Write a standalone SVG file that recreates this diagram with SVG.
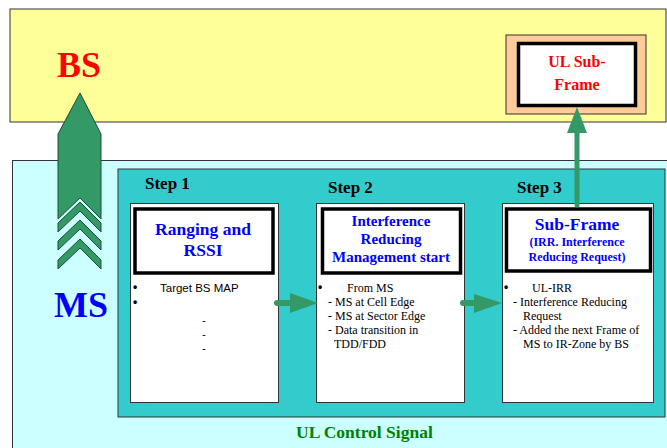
<svg xmlns="http://www.w3.org/2000/svg" width="667" height="448" viewBox="0 0 667 448">
<defs>
<style>
.bold{font-family:"Liberation Serif","Times New Roman",serif;font-weight:bold}
.ser{font-family:"Liberation Serif","Times New Roman",serif;font-size:12px;fill:#000}
.sans{font-family:"Liberation Sans",Arial,sans-serif;font-size:11.5px;fill:#000}
.bul{font-family:"Liberation Sans",Arial,sans-serif;font-size:12px;font-weight:bold;fill:#000}
.panel{fill:#fff;stroke:#333;stroke-width:1}
.title{fill:#fff;stroke:#000;stroke-width:3.5}
.blue{fill:#0000ff;text-anchor:middle}
.grn{fill:#339966;stroke:#1f4d33;stroke-width:1}
</style>
</defs>
<rect width="667" height="448" fill="#fff"/>
<g id="bs-zone">
<rect x="10" y="9" width="656" height="113" fill="#ffff99" stroke="#333" stroke-width="1"/>
<text x="57" y="77" class="bold" font-size="36" fill="#ff0000">BS</text>
</g>
<g id="ul-subframe">
<rect x="506" y="35" width="140" height="79" fill="#ffcc99" stroke="#333" stroke-width="1"/>
<rect x="518.5" y="43.5" width="117" height="62" class="title"/>
<text x="577" y="67" class="bold" font-size="16" fill="#ff0000" text-anchor="middle">UL Sub-</text>
<text x="577" y="90" class="bold" font-size="16" fill="#ff0000" text-anchor="middle">Frame</text>
</g>
<g id="ms-zone">
<rect x="12.5" y="160.5" width="660" height="300" fill="#ccffff" stroke="#333" stroke-width="1"/>
<rect x="118" y="169" width="547" height="248" fill="#33cccc" stroke="#333" stroke-width="1"/>
<text x="54" y="317" class="bold" font-size="36" fill="#0000ff">MS</text>
<text x="296" y="438" class="bold" font-size="17.5" fill="#008000">UL Control Signal</text>
</g>
<g id="step1">
<text x="145" y="189" class="bold" font-size="17" fill="#000">Step 1</text>
<rect x="130.5" y="203.5" width="148" height="199" class="panel"/>
<rect x="135" y="209" width="138" height="64" class="title"/>
<text x="203" y="235" class="bold blue" font-size="17.5">Ranging and</text>
<text x="203" y="256" class="bold blue" font-size="17.5">RSSI</text>
<text x="133" y="291" class="bul">•</text>
<text x="160" y="292" class="sans">Target BS MAP</text>
<text x="133" y="306" class="bul">•</text>
<text x="202" y="324" class="sans">-</text>
<text x="202" y="338" class="sans">-</text>
<text x="202" y="352" class="sans">-</text>
</g>
<g id="step2">
<text x="328" y="193" class="bold" font-size="17" fill="#000">Step 2</text>
<rect x="316.5" y="203.5" width="148" height="199" class="panel"/>
<rect x="322.5" y="209" width="138" height="64" class="title"/>
<text x="391" y="226" class="bold blue" font-size="15">Interference</text>
<text x="391" y="244" class="bold blue" font-size="15">Reducing</text>
<text x="391" y="262" class="bold blue" font-size="15">Management start</text>
<text x="318" y="291" class="bul">•</text>
<text x="347" y="292" class="ser">From MS</text>
<text x="328" y="306" class="ser">- MS at Cell Edge</text>
<text x="328" y="320" class="ser">- MS at Sector Edge</text>
<text x="328" y="334" class="ser">- Data transition in</text>
<text x="334" y="348" class="ser">TDD/FDD</text>
</g>
<g id="step3">
<text x="517" y="193" class="bold" font-size="17" fill="#000">Step 3</text>
<rect x="502.5" y="203.5" width="151" height="199" class="panel"/>
<rect x="506.5" y="209" width="144" height="62" class="title"/>
<text x="577" y="230" class="bold blue" font-size="17.5">Sub-Frame</text>
<text x="577" y="246" class="bold blue" font-size="12">(IRR. Interference</text>
<text x="577" y="261" class="bold blue" font-size="12">Reducing Request)</text>
<text x="504" y="291" class="bul">•</text>
<text x="532" y="292" class="ser">UL-IRR</text>
<text x="513" y="306" class="ser">- Interference Reducing</text>
<text x="523" y="320" class="ser">Request</text>
<text x="513" y="334" class="ser">- Added the next Frame of</text>
<text x="523" y="348" class="ser">MS to IR-Zone by BS</text>
</g>
<g id="connectors">
<path class="grn" d="M58,134 L80,93 L101,134 L101,219 L80,198 L58,219 Z"/>
<path class="grn" d="M80,202 L101,223 L101,232 L80,211 L58,232 L58,223 Z"/>
<path class="grn" d="M80,220 L101,241 L101,250 L80,229 L58,250 L58,241 Z"/>
<path class="grn" d="M80,239 L101,260 L101,269 L80,248 L58,269 L58,260 Z"/>
<line x1="577" y1="205" x2="577" y2="130" stroke="#339966" stroke-width="5" stroke-linecap="round"/>
<path d="M577,107 L587,133 L567,133 Z" fill="#339966"/>
<line x1="277" y1="303" x2="292" y2="303" stroke="#339966" stroke-width="6" stroke-linecap="round"/>
<path d="M318,303 L290,293 L290,313 Z" fill="#339966"/>
<line x1="463" y1="303" x2="476" y2="303" stroke="#339966" stroke-width="6" stroke-linecap="round"/>
<path d="M502,303 L474,294 L474,313 Z" fill="#339966"/>
</g>
</svg>
